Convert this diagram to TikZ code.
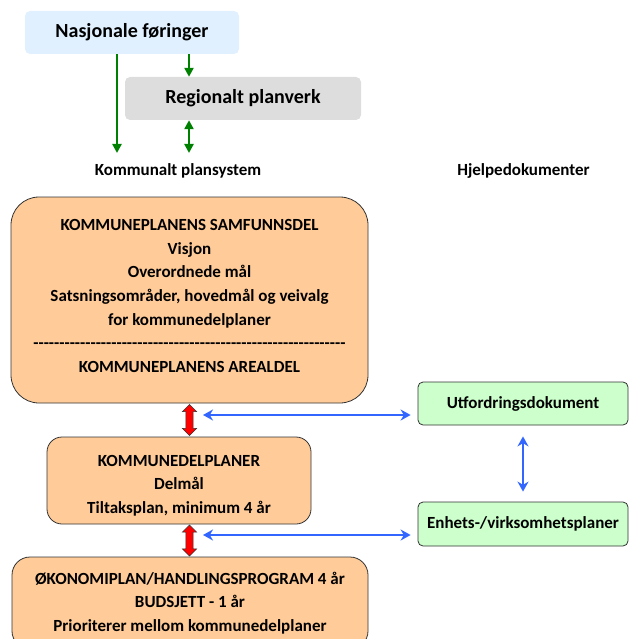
\documentclass[tikz,border=0pt]{standalone}
\usepackage{fontspec}
\newfontfamily\calibri{Carlito}
\usetikzlibrary{arrows.meta,shapes.arrows,positioning}

\definecolor{peach}{RGB}{255,204,153}
\definecolor{mint}{RGB}{204,255,204}
\definecolor{skyblue}{RGB}{224,240,255}
\definecolor{lightgray}{RGB}{221,221,221}
\definecolor{darkgreen}{RGB}{0,128,0}
\definecolor{linkblue}{RGB}{51,102,255}

\begin{document}
\begin{tikzpicture}
    [ x=1pt, y=-1pt
    , every node/.style={font=\calibri\bfseries\fontsize{17}{23.7}\selectfont, inner sep=0pt}
    , topbox/.style={rounded corners=5pt, align=center, font=\calibri\bfseries\fontsize{20}{24}\selectfont}
    , planbox/.style={draw=black!80, line width=0.8pt, fill=peach}
    , boxtext/.style={align=center}
    , helpbox/.style={draw=black!80, line width=0.8pt, fill=mint, rounded corners=5pt, minimum width=210pt, minimum height=43pt}
    , greenarrow/.style={draw=darkgreen, line width=2.7pt, -{Triangle[length=9pt,width=9pt]}}
    , bluearrow/.style={draw=linkblue, line width=2pt, {Stealth[length=10pt,width=11pt]}-{Stealth[length=10pt,width=11pt]}}
    , redarrow/.style={double arrow, draw=black!80, fill=red, line width=0.6pt, inner sep=3.3pt, double arrow head extend=3.5pt, double arrow head indent=0pt, shape border rotate=90, minimum height=#1}
    ]
  \clip (0,0) rectangle (629,639);

  \node[topbox, fill=skyblue, minimum width=214pt, minimum height=43pt] (nasj) at (132,32.5) {Nasjonale føringer};
  \node[topbox, fill=lightgray, minimum width=236pt, minimum height=43pt] (reg) at (243,98.5) {Regionalt planverk};

  \node (komm) at (178,171) {Kommunalt plansystem};
  \node (hjelp) at (523.5,171) {Hjelpedokumenter};

  \coordinate (g1) at (117,153);
  \coordinate (g2) at (189,153);
  \draw[greenarrow] (g1 |- nasj.south) -- (g1);
  \draw[greenarrow] (g2 |- nasj.south) -- (g2 |- reg.north);
  \draw[greenarrow, {Triangle[length=9pt,width=9pt]}-{Triangle[length=9pt,width=9pt]}] (g2 |- reg.south) -- (g2);

  \node[planbox, rounded corners=28pt, minimum width=357pt, minimum height=206pt] (samf) at (189.5,300) {};
  \node[boxtext] (samftext) at ([yshift=4pt]samf.center)
    {KOMMUNEPLANENS SAMFUNNSDEL\\
     Visjon\\
     Overordnede mål\\
     Satsningsområder, hovedmål og veivalg\\
     for kommunedelplaner\\
     ------------------------------------------------------------\\
     KOMMUNEPLANENS AREALDEL};
  \node[planbox, rounded corners=15pt, minimum width=264pt, minimum height=87pt] (kdp) at (179,480.5) {};
  \node[boxtext] (kdptext) at ([yshift=-5pt]kdp.center)
    {KOMMUNEDELPLANER\\
     Delmål\\
     Tiltaksplan, minimum 4 år};
  \node[planbox, rounded corners=18pt, minimum width=356pt, minimum height=92pt] (okon) at (190,603) {};
  \node[boxtext] (okontext) at (okon.center)
    {ØKONOMIPLAN/HANDLINGSPROGRAM 4 år\\
     BUDSJETT - 1 år\\
     Prioriterer mellom kommunedelplaner};

  \node[helpbox] (utf) at (523,403.5) {Utfordringsdokument};
  \node[helpbox, minimum height=44pt] (enh) at (523,524) {Enhets-/virksomhetsplaner};

  \path (samf.south) -- node[redarrow=31pt] {} (samf.south |- kdp.north);
  \path (samf.south |- kdp.south) -- node[redarrow=31pt] {} (samf.south |- okon.north);

  \coordinate (b1) at (203,415);
  \coordinate (b2) at (203,535);
  \draw[bluearrow, shorten >=7pt] (b1) -- (b1 -| utf.west);
  \draw[bluearrow, shorten >=7pt] (b2) -- (b2 -| enh.west);
  \draw[bluearrow, shorten <=11pt, shorten >=10pt] (utf.south) -- (enh.north);
\end{tikzpicture}
\end{document}
